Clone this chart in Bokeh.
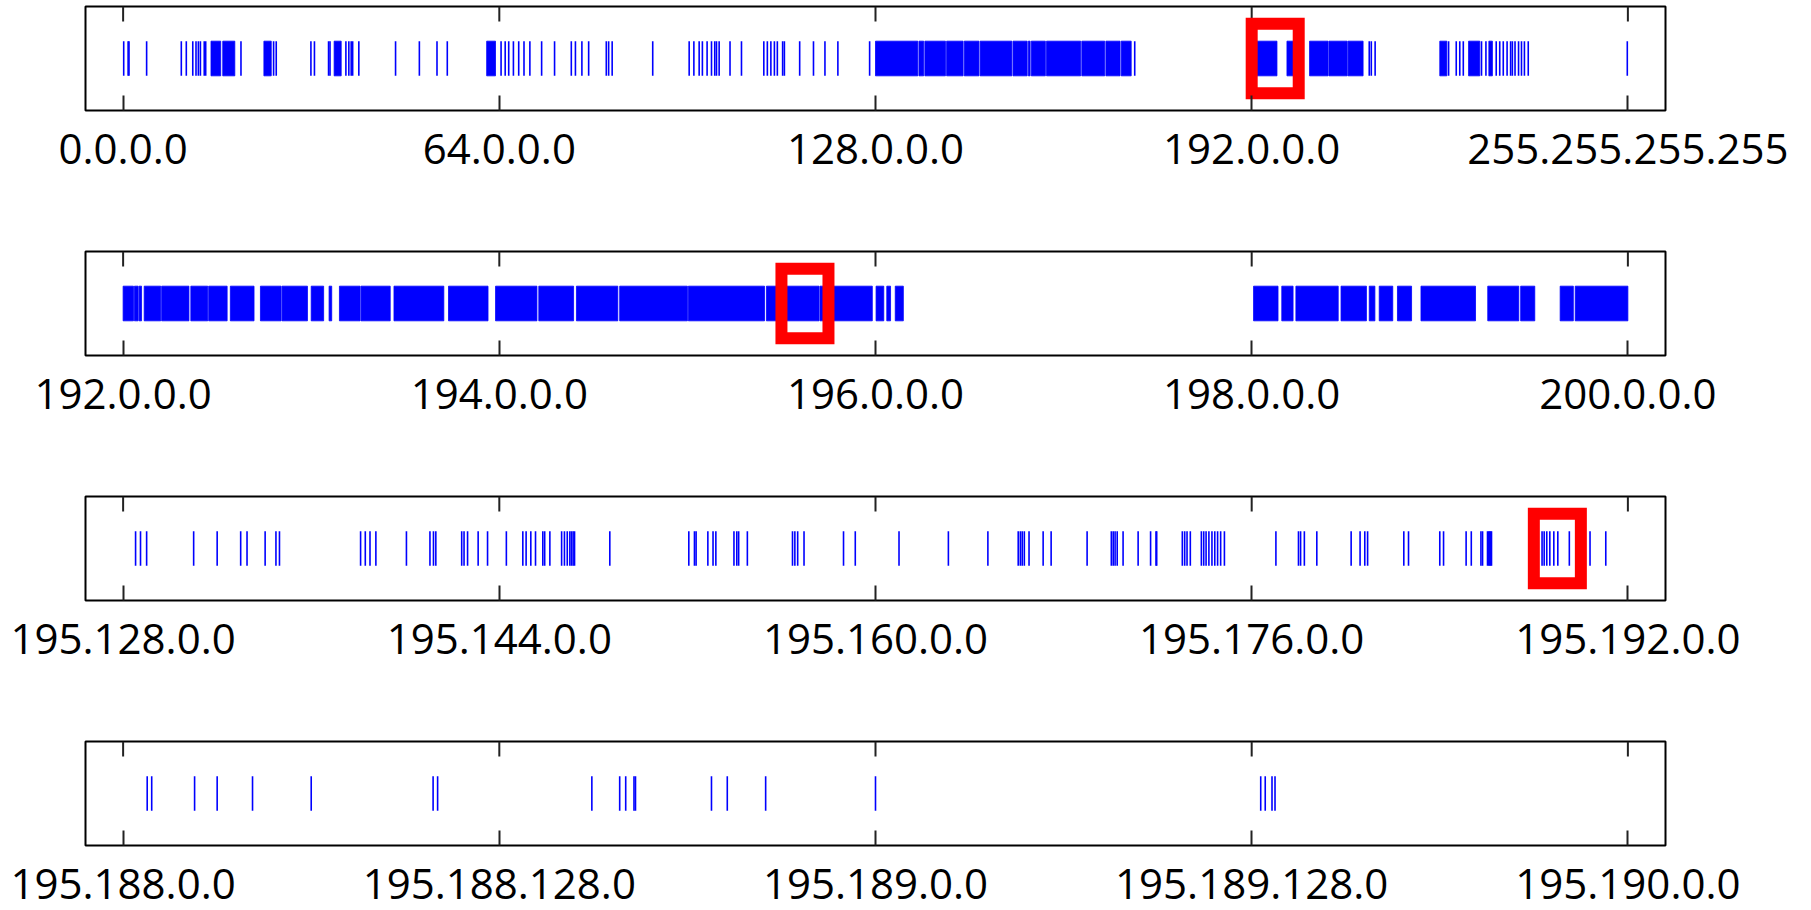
from bokeh.plotting import figure
from bokeh.layouts import column
from bokeh.models import Range1d, FixedTicker, CustomJSTickFormatter
from bokeh.embed import file_html
from bokeh.resources import INLINE

# ---- address positions, expressed in units of the octet each strip zooms on ----

# strip 1: whole IPv4 space, first-octet units (0 .. 256)
overview_hits = [0.1, 0.85, 1.0, 4.0, 9.9, 10.75, 11.85, 12.4, 12.8, 13.15, 13.8, 14.05,
                 20.05, 25.6, 26.05, 31.95, 32.55, 34.95, 35.2, 37.9, 38.4, 38.8, 39.05,
                 40.1, 46.35, 50.4, 53.4, 55.15, 64.3, 65.0, 65.6, 66.4, 67.3, 68.2, 69.2,
                 71.2, 73.4, 76.25, 76.95, 78.05, 79.2, 82.2, 82.6, 83.2, 90.1, 96.3, 97.1,
                 98.0, 98.55, 99.35, 100.1, 100.65, 100.95, 101.4, 103.25, 105.2, 109.0,
                 109.6, 110.2, 110.8, 111.3, 112.2, 112.5, 115.1, 117.45, 119.4, 121.6,
                 127.0, 172.1, 212.0, 212.35, 213.0, 225.5, 226.8, 227.4, 228.0, 231.1,
                 231.85, 233.6, 234.2, 234.8, 235.45, 236.05, 236.35, 236.8, 237.4, 237.9,
                 238.4, 239.05, 255.9]
overview_block_start = [14.95, 16.95, 23.95, 35.9, 61.85, 128.0, 135.4, 136.4, 140.1, 143.1,
                        145.8, 151.4, 154.0, 154.5, 157.1, 163.1, 167.2, 169.8, 192.0, 198.0,
                        201.85, 205.15, 208.4, 224.0, 228.9, 232.35]
overview_block_end = [16.6, 19.0, 25.2, 37.1, 63.35, 135.2, 136.2, 139.9, 142.9, 145.6,
                      151.2, 153.8, 154.3, 156.9, 162.9, 167.0, 169.6, 171.5, 196.3, 200.0,
                      205.0, 208.25, 210.95, 225.2, 230.8, 232.95]

# strip 2: 192.0.0.0 - 200.0.0.0, first-octet units
zoom1_hits = []
zoom1_block_start = [192.0, 192.06, 192.085, 192.112, 192.205, 192.36, 192.455, 192.57, 192.73,
                     192.845, 193.0, 193.095, 193.15, 193.265, 193.44, 193.73, 193.98, 194.21,
                     194.41, 194.64, 195.005, 195.42, 195.705, 196.003, 196.06, 196.105,
                     198.01, 198.16, 198.235, 198.475, 198.625, 198.678, 198.775, 198.9,
                     199.255, 199.43, 199.64, 199.72]
zoom1_block_end = [192.055, 192.08, 192.098, 192.2, 192.35, 192.45, 192.553, 192.696, 192.84,
                   192.98, 193.066, 193.109, 193.26, 193.42, 193.705, 193.94, 194.2, 194.395,
                   194.63, 195.0, 195.41, 195.7, 195.983, 196.044, 196.08, 196.148,
                   198.14, 198.22, 198.46, 198.61, 198.655, 198.75, 198.85, 199.19,
                   199.42, 199.505, 199.71, 200.0]

# strip 3: 195.128.0.0 - 195.192.0.0, second-octet units
zoom2_hits = [128.53, 128.74, 129.0, 131.0, 132.0, 133.0, 133.27, 134.04, 134.5, 134.65,
              138.1, 138.3, 138.5, 138.75, 140.05, 141.05, 141.2, 141.3, 142.4, 142.5,
              142.65, 143.1, 143.5, 144.3, 145.0, 145.14, 145.34, 145.54, 145.85, 145.93,
              146.15, 146.65, 146.77, 146.89, 147.0, 147.07, 147.14, 147.2, 148.7, 152.06,
              152.3, 152.37, 152.87, 153.09, 153.21, 153.98, 154.1, 154.18, 154.55, 156.47,
              156.57, 156.69, 156.96, 158.64, 159.14, 161.0, 163.1, 164.78, 166.07, 166.16,
              166.24, 166.33, 166.53, 167.13, 167.47, 169.0, 170.03, 170.11, 170.19, 170.28,
              170.53, 171.17, 171.7, 171.93, 171.96, 173.05, 173.15, 173.25, 173.39, 173.86,
              173.96, 174.06, 174.18, 174.31, 174.43, 174.55, 174.68, 174.84, 177.03, 177.99,
              178.08, 178.24, 178.77, 180.23, 180.61, 180.81, 180.93, 182.47, 182.67, 184.0,
              184.16, 185.12, 185.34, 185.75, 185.82, 186.03, 186.08, 186.12, 186.16, 186.2,
              188.35, 188.44, 188.55, 188.68, 188.85, 189.02, 189.51, 190.39, 191.06]
zoom2_block_start = []
zoom2_block_end = []

# strip 4: 195.188.0.0 - 195.190.0.0, third-octet units
zoom3_hits = [188.032, 188.038, 188.095, 188.125, 188.172, 188.25, 188.412, 188.418,
              188.623, 188.66, 188.668, 188.679, 188.681, 188.782, 188.803, 188.854, 189.0,
              189.512, 189.518, 189.527, 189.531]
zoom3_block_start = []
zoom3_block_end = []

# strip extents and tick labels
strip_lo = [0, 192, 128, 188]
strip_hi = [256, 200, 192, 190]
strip_ticks = [[0, 64, 128, 192, 256],
               [192, 194, 196, 198, 200],
               [128, 144, 160, 176, 192],
               [188, 188.5, 189, 189.5, 190]]
strip_labels = [["0.0.0.0", "64.0.0.0", "128.0.0.0", "192.0.0.0", "255.255.255.255"],
                ["192.0.0.0", "194.0.0.0", "196.0.0.0", "198.0.0.0", "200.0.0.0"],
                ["195.128.0.0", "195.144.0.0", "195.160.0.0", "195.176.0.0", "195.192.0.0"],
                ["195.188.0.0", "195.188.128.0", "195.189.0.0", "195.189.128.0", "195.190.0.0"]]

# the range the next strip enlarges, in this strip's own units
focus_lo = [192, 195.5, 188]
focus_hi = [200, 195.75, 190]

hits = [overview_hits, zoom1_hits, zoom2_hits, zoom3_hits]
block_start = [overview_block_start, zoom1_block_start, zoom2_block_start, zoom3_block_start]
block_end = [overview_block_end, zoom1_block_end, zoom2_block_end, zoom3_block_end]

FONT = "Open Sans"
BLUE = "#0000ff"
RED = "#ff0000"
TICK = "#222222"
FRAME_H = 104
TOP = 6
TICK_LEN = 15

label_js = """
for (let i = 0; i < tick_pos.length; i++) {
    if (Math.abs(tick_pos[i] - tick) < 1e-9) return tick_text[i];
}
return "";
"""

plots = []
for i in range(4):
    lo, hi = strip_lo[i], strip_hi[i]
    pad = 0.025 * (hi - lo)
    last = i == 3
    h = 175 if last else 245
    p = figure(width=1811, height=h,
               x_range=Range1d(lo - pad, hi + pad), y_range=Range1d(0, 1),
               output_backend="svg", toolbar_location=None,
               x_axis_location="below", y_axis_location=None,
               min_border_left=85, min_border_right=146,
               min_border_top=TOP, min_border_bottom=h - TOP - FRAME_H)
    p.xgrid.visible = False
    p.ygrid.visible = False
    p.outline_line_color = "black"
    p.outline_line_width = 2
    p.background_fill_color = "white"
    p.border_fill_color = "white"

    ax = p.xaxis[0]
    ax.ticker = FixedTicker(ticks=strip_ticks[i], minor_ticks=[])
    ax.formatter = CustomJSTickFormatter(
        args=dict(tick_pos=strip_ticks[i], tick_text=strip_labels[i]), code=label_js)
    ax.axis_line_color = None
    ax.major_tick_in = TICK_LEN
    ax.major_tick_out = 0
    ax.major_tick_line_color = TICK
    ax.major_tick_line_width = 2
    ax.minor_tick_line_color = None
    ax.major_label_text_font = FONT
    ax.major_label_text_font_size = "42px"
    ax.major_label_text_color = "black"
    ax.major_label_standoff = 23

    # matching inward tick marks along the top edge of the frame
    n = len(strip_ticks[i])
    p.segment(x0=strip_ticks[i], y0=[1 - TICK_LEN / FRAME_H] * n,
              x1=strip_ticks[i], y1=[1] * n, line_color=TICK, line_width=2)

    # isolated addresses: thin vertical ticks across the middle third
    if hits[i]:
        p.segment(x0=hits[i], y0=[1 / 3] * len(hits[i]), x1=hits[i], y1=[2 / 3] * len(hits[i]),
                  line_color=BLUE, line_width=1.6)
    # contiguous runs of addresses
    if block_start[i]:
        p.quad(left=block_start[i], right=block_end[i], bottom=1 / 3, top=2 / 3,
               fill_color=BLUE, line_color=BLUE, line_width=0.8)

    # outline of the range shown by the next strip
    if not last:
        p.quad(left=[focus_lo[i]], right=[focus_hi[i]], bottom=1 / 6, top=5 / 6,
               fill_color=None, line_color=RED, line_width=12, line_join="miter")
    plots.append(p)

layout = column(*plots, spacing=0)
open("out.html", "w").write(file_html(layout, INLINE))
